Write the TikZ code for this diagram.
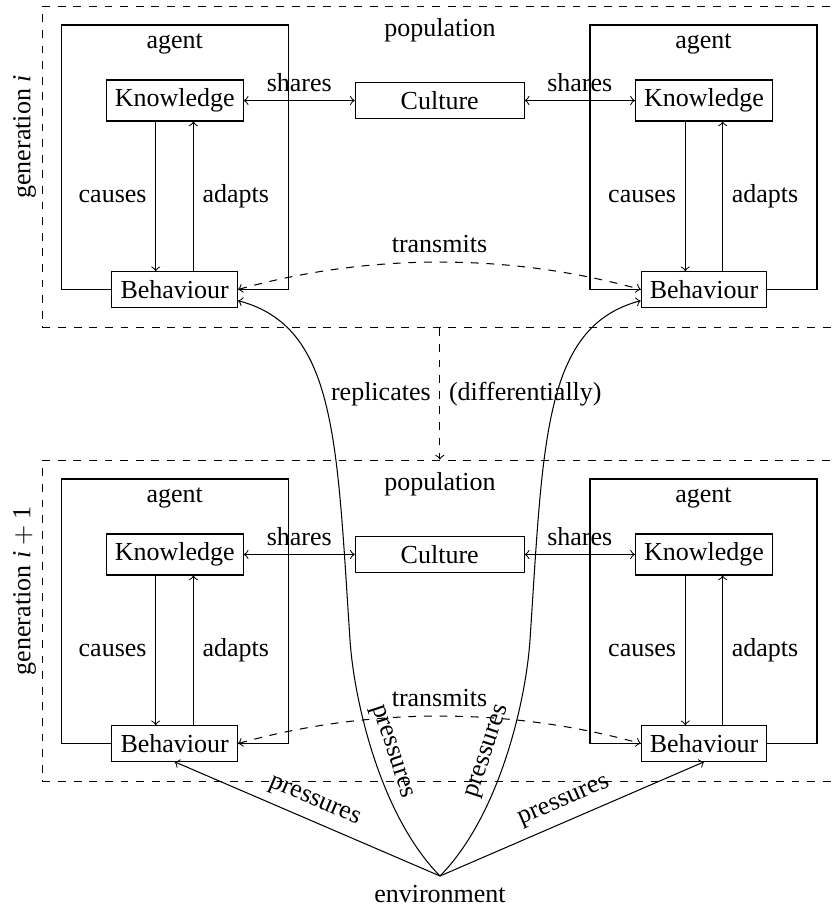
\documentclass[tikz,border=0pt]{standalone}
\usepackage{fontspec}
\setmainfont{Liberation Serif}
\begin{document}
\begin{tikzpicture}[x=0.3846pt,y=-0.3846pt,
  every node/.style={font=\fontsize{10}{12}\selectfont},
  box/.style={draw, fill=white, inner sep=0.3333em},
  agentbox/.style={draw, minimum width=87.3pt, minimum height=101.65pt, inner sep=0pt},
  popbox/.style={draw, dashed, minimum width=305.5pt, minimum height=123.8pt, inner sep=0pt},
  toplabel/.style={anchor=north, inner sep=0.3333em},
  arr/.style={->},
  twoarr/.style={<->},
  transarr/.style={<->, dashed}]
\useasboundingbox (0,0) rectangle (831,910);
\newcommand\makegeneration[3]{%
\begin{scope}[shift={(0,#2)}]
  \node[popbox] (#1pop) at (439.85,167) {};
  \node[toplabel] (#1poplabel) at (440,9.5) {population};
  \node[rotate=90] (#1genlabel) at (24.5,137) {generation #3};
  \node[agentbox] (#1la) at (174.8,157.15) {};
  \node[agentbox] (#1ra) at (703.5,157.15) {};
  \node[toplabel] (#1lalabel) at (#1la.north) {agent};
  \node[toplabel] (#1ralabel) at (#1ra.north) {agent};
  \node[box] (#1lK) at (174.7,100.5) {Knowledge};
  \node[box] (#1lB) at (174.7,289.5) {Behaviour};
  \node[box, minimum width=65pt] (#1C) at (439.7,100.5) {Culture};
  \node[box] (#1rK) at (704,100.5) {Knowledge};
  \node[box] (#1rB) at (704,289.5) {Behaviour};
  \draw[twoarr] (#1lK) -- node[above] {shares} (#1C);
  \draw[twoarr] (#1C) -- node[above] {shares} (#1rK);
  \draw[arr] ([xshift=-7.3pt]#1lK.south) -- node[left] {causes} ([xshift=-7.3pt]#1lB.north);
  \draw[arr] ([xshift=7.2pt]#1lB.north) -- node[right] {adapts} ([xshift=7.2pt]#1lK.south);
  \draw[arr] ([xshift=-7.2pt]#1rK.south) -- node[left] {causes} ([xshift=-7.2pt]#1rB.north);
  \draw[arr] ([xshift=7.2pt]#1rB.north) -- node[right] {adapts} ([xshift=7.2pt]#1rK.south);
  \draw[transarr] (#1lB.east) .. controls (370,253) and (509,253) .. node[midway, above] {transmits} (#1rB.west);
\end{scope}}
\makegeneration{A}{0}{\textit{i}}
\makegeneration{B}{454}{\textit{i}${}+{}$1}
\draw[arr, dashed] (Apop.south) -- node[left] {replicates} node[right] {(differentially)} (Bpop.north);
\node[anchor=north] (env) at (440,876) {environment};
\draw[arr] (env.north) -- node[sloped, above] {pressures} (BlB.south);
\draw[arr] (env.north) -- node[sloped, above] {pressures} (BrB.south);
\draw[arr] (env.north) .. controls (380,815) and (354,700) .. node[sloped, above, pos=0.5] {pressures} (350,640)
  .. controls (336.7,440) and (336.6,326.9) .. (AlB.-10);
\draw[arr] (env.north) .. controls (500,815) and (526,700) .. node[sloped, above, pos=0.5] {pressures} (530,640)
  .. controls (543.3,440) and (543.4,326.9) .. (ArB.190);
\end{tikzpicture}
\end{document}
